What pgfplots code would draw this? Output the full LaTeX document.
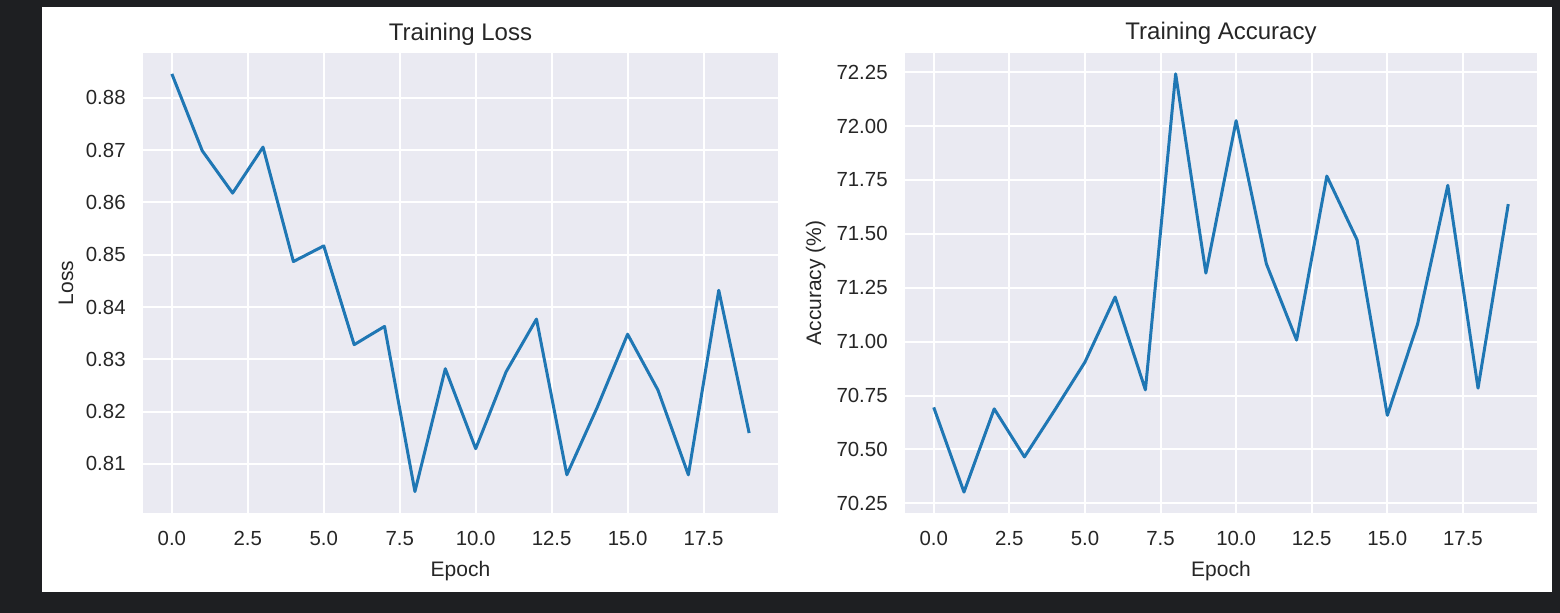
\documentclass[border=0pt]{standalone}
\usepackage{pgfplots}
\pgfplotsset{compat=1.18}
\usepackage{fontspec}
\setmainfont{Liberation Sans}
\definecolor{bgdark}{HTML}{1E1F22}
\definecolor{sbgrid}{HTML}{EAEAF2}
\definecolor{sbtext}{HTML}{262626}
\definecolor{tabblue}{HTML}{1F77B4}

\pgfplotstableread{
epoch loss acc
0  0.8846 70.695
1  0.8699 70.302
2  0.8618 70.688
3  0.8706 70.465
4  0.8487 70.682
5  0.8517 70.905
6  0.8328 71.207
7  0.8363 70.776
8  0.8047 72.242
9  0.8282 71.318
10 0.8129 72.025
11 0.8276 71.361
12 0.8377 71.007
13 0.8079 71.768
14 0.8208 71.472
15 0.8348 70.658
16 0.8241 71.081
17 0.8079 71.725
18 0.8432 70.784
19 0.8159 71.638
}\datatable

\pgfplotsset{sbstyle/.style={
  scale only axis, height=230pt,
  axis background/.style={fill=sbgrid},
  axis line style={draw=none},
  grid=major, major grid style={white, line width=1pt},
  tick style={draw=none},
  xmin=-0.95, xmax=19.95,
  xtick={0,2.5,5,7.5,10,12.5,15,17.5},
  /pgf/number format/assume math mode=true,
  xticklabel={\pgfmathprintnumber[fixed,fixed zerofill,precision=1]{\tick}},
  xticklabel style={font=\fontsize{10.2}{12}\selectfont, text=sbtext, anchor=base, inner sep=0pt, yshift=-16.5pt},
  yticklabel style={font=\fontsize{10.2}{12}\selectfont, text=sbtext, anchor=east, inner sep=0pt, xshift=-8.5pt},
  title style={font=\fontsize{12}{14}\selectfont, text=sbtext, at={(axis description cs:0.5,1)}, anchor=base, yshift=0.5pt},
  xlabel style={font=\fontsize{10.5}{12.5}\selectfont, text=sbtext, at={(axis description cs:0.5,0)}, anchor=base, yshift=-32pt},
  ylabel style={font=\fontsize{10.5}{12.5}\selectfont, text=sbtext, anchor=base, rotate=0},
  xlabel={Epoch},
}}

\begin{document}
\begin{tikzpicture}[x=1pt,y=1pt]
\fill[bgdark] (0,0) rectangle (780,306.5);
\fill[white] (21,10.5) rectangle (776,303);
\begin{axis}[sbstyle, width=317.5pt, at={(71.5pt,50pt)}, anchor=south west,
  title={Training Loss},
  ylabel={Loss},
  ylabel style={at={([xshift=-35pt]axis description cs:0,0.5)}},
  ymin=0.8006, ymax=0.8886,
  ytick={0.81,0.82,0.83,0.84,0.85,0.86,0.87,0.88},
  yticklabel={\pgfmathprintnumber[fixed,fixed zerofill,precision=2]{\tick}},
]
\addplot[tabblue, line width=1.5pt, line join=round, mark=none] table[x=epoch,y=loss] {\datatable};
\end{axis}
\begin{axis}[sbstyle, width=316pt, at={(452.5pt,50pt)}, anchor=south west,
  title={Training Accuracy},
  ylabel={Accuracy (\%)},
  ylabel style={at={([xshift=-42pt]axis description cs:0,0.5)}},
  ymin=70.205, ymax=72.339,
  ytick={70.25,70.5,70.75,71,71.25,71.5,71.75,72,72.25},
  yticklabel={\pgfmathprintnumber[fixed,fixed zerofill,precision=2]{\tick}},
]
\addplot[tabblue, line width=1.5pt, line join=round, mark=none] table[x=epoch,y=acc] {\datatable};
\end{axis}
\end{tikzpicture}
\end{document}
